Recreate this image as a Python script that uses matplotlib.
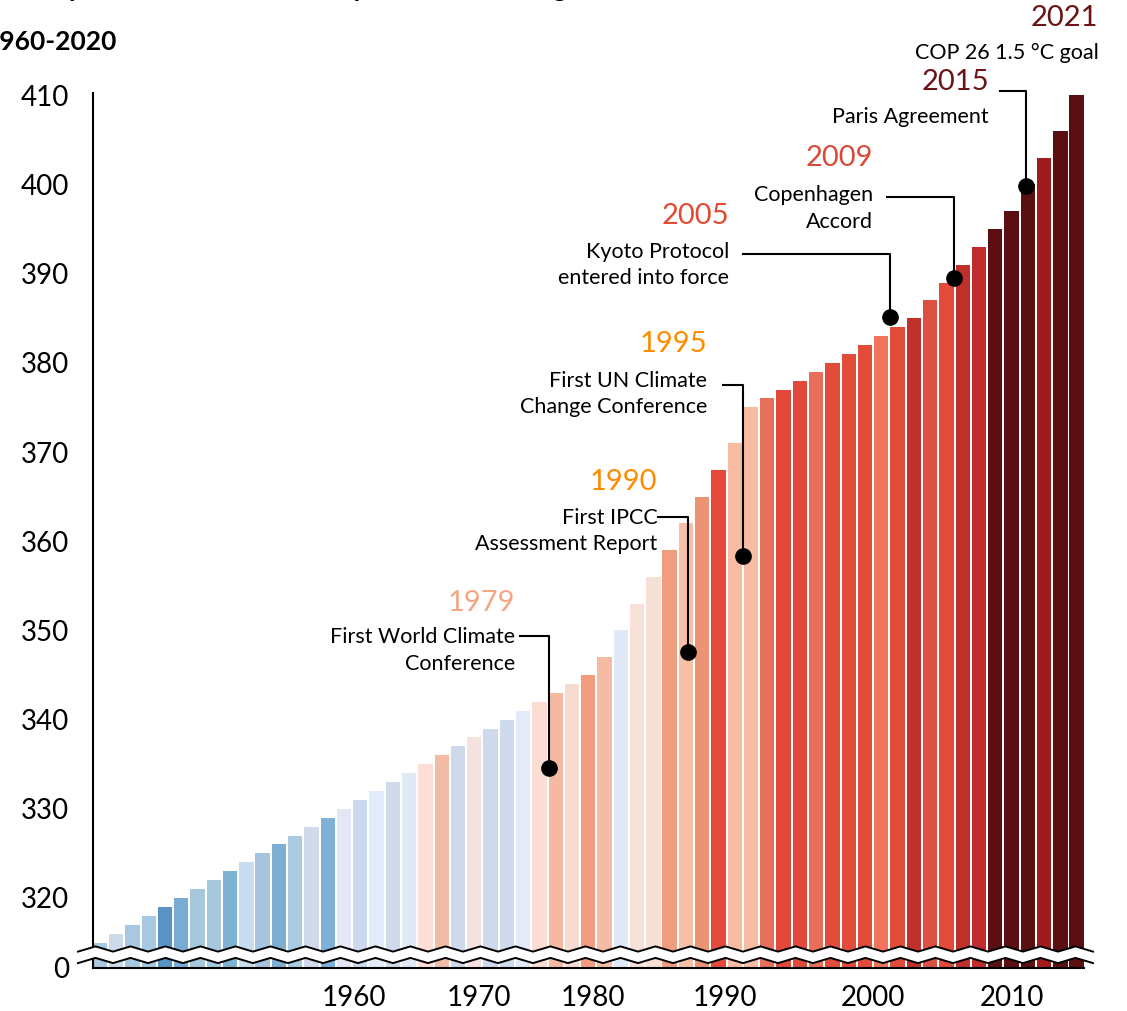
import numpy as np
import matplotlib.pyplot as plt
from matplotlib.lines import Line2D
from matplotlib.patches import Polygon

plt.rcParams['font.family'] = ['Lato', 'DejaVu Sans']

# Atmospheric CO2 (ppm), one bar per year 1960-2020
years = list(range(1960, 2021))
ppm = [315, 316, 317, 318, 319, 320, 321, 322, 323, 324,
       325, 326, 327, 328, 329, 330, 331, 332, 333, 334,
       335, 336, 337, 338, 339, 340, 341, 342, 343, 344,
       345, 347, 350, 353, 356, 359, 362, 365, 368, 371,
       375, 376, 377, 378, 379, 380, 381, 382, 383, 384,
       385, 387, 389, 391, 393, 395, 397, 400, 403, 406,
       410]

# stripe colour of each year
bar_colors = ['#A9C9E1', '#CCDAEB', '#A6C8E0', '#A6C8E0', '#5893C4',
              '#79ABD5', '#A6C8DD', '#A6C8DD', '#7EB2D2', '#C9DDF0',
              '#A6C4DE', '#7FAED3', '#A9CAE0', '#D0DAEA', '#7FB1D8',
              '#E4E8F6', '#CBD8F0', '#E3ECF9', '#D0DAEA', '#E0EAF5',
              '#FDDFD8', '#F2BBA5', '#CED9EC', '#F5E2DF', '#CED9EC',
              '#CFDAEC', '#E3EBFA', '#FBDDD4', '#F3B9A1', '#F8DBD0',
              '#F39C7F', '#F6BBA5', '#E0EAF7', '#F8E1D9', '#F7E0D6',
              '#F09C7E', '#F8BFA7', '#EC9375', '#E34A3A', '#F8BCA2',
              '#F8BCA2', '#E6705A', '#E2483A', '#E14A3A', '#E8705A',
              '#E24C3B', '#E24C3B', '#E04B3A', '#F0755C', '#E04B3A',
              '#C0302A', '#DD4F3E', '#E34A3A', '#C0302A', '#C02C2C',
              '#5B0F12', '#5B0F12', '#5B0F12', '#A01C1C', '#5B0F12',
              '#5B0F12']

x_labels = ['1960', '1970', '1980', '1990', '2000', '2010']
x_label_pos = [15.6, 23.3, 30.3, 38.4, 47.5, 56.0]
y_ticks = [320, 330, 340, 350, 360, 370, 380, 390, 400, 410]

# milestones: year, colour, text, dot (x, ppm), elbow ppm, line start x,
# text right edge x, year label ppm, text centre ppm
milestones = [
    ('1979', '#F4A582', 'First World Climate\nConference',
     (27.61, 334.57), 349.37, 25.81, 25.5, 353.1, 347.75),
    ('1990', '#FF8C00', 'First IPCC\nAssessment Report',
     (36.14, 347.61), 362.67, 34.30, 34.24, 366.66, 361.13),
    ('1995', '#FF8C00', 'First UN Climate\nChange Conference',
     (39.49, 358.33), 377.50, 38.26, 37.31, 382.1, 376.49),
    ('2005', '#E34A33', 'Kyoto Protocol\nentered into force',
     (48.53, 385.09), 392.15, 39.50, 38.65, 396.44, 391.0),
    ('2009', '#D94A38', 'Copenhagen\nAccord',
     (52.47, 389.49), 398.62, 48.33, 47.51, 402.94, 397.3),
    ('2015', '#6B1416', 'Paris Agreement',
     (56.87, 399.80), 410.45, 55.29, 54.62, 411.46, 407.54),
]

W, H = 1127, 1011
fig = plt.figure(figsize=(W / 100, H / 100), dpi=100)


def fx(px):
    return px / W


def fy(py):
    return 1 - py / H


left, right = 92.7, 1083.8
ax = fig.add_axes([fx(left), fy(954), fx(right) - fx(left), fy(93) - fy(954)])
axb = fig.add_axes([fx(left), fy(968), fx(right) - fx(left), fy(954) - fy(968)])

x = np.arange(len(ppm))
for a in (ax, axb):
    a.bar(x, ppm, width=0.88, color=bar_colors, edgecolor='none')
    a.set_xlim(-0.44, len(ppm) - 0.56)
    for s in ['top', 'right']:
        a.spines[s].set_visible(False)
    a.spines['left'].set_linewidth(1.5)
    a.tick_params(length=0, labelsize=20, pad=17)

ax.set_ylim(313.72, 410.25)
ax.set_yticks(y_ticks)
ax.set_xticks([])
ax.spines['bottom'].set_visible(False)

axb.set_ylim(0, 1)
axb.set_yticks([0])
axb.set_yticklabels(['0'])
axb.spines['bottom'].set_linewidth(1.5)
axb.set_xticks(x_label_pos)
axb.set_xticklabels(x_labels)
axb.tick_params(axis='x', pad=12)

# axis break: white zigzag band
zx = np.arange(78, 1101, 17.5)
zz = np.where(np.arange(len(zx)) % 2 == 0, 2.6, -2.6)
upper = 949 + zz
lower = 960.5 + zz
band = np.column_stack([np.r_[zx, zx[::-1]], np.r_[upper, lower[::-1]]])
band = np.column_stack([fx(band[:, 0]), fy(band[:, 1])])
fig.add_artist(Polygon(band, closed=True, facecolor='white', edgecolor='none',
                       transform=fig.transFigure, zorder=5))
for yy in (upper, lower):
    fig.add_artist(Line2D(fx(zx), fy(yy), color='black', lw=1.4,
                          transform=fig.transFigure, zorder=6))

# milestone annotations
for yr, col, txt, dot, y_elb, x_start, x_txt, y_yr, y_txt in milestones:
    ax.plot([x_start, dot[0], dot[0]], [y_elb, y_elb, dot[1]], color='black',
            lw=1.5, clip_on=False, zorder=4)
    ax.plot(dot[0], dot[1], 'o', color='black', markersize=11, clip_on=False, zorder=4)
    ax.text(x_txt, y_yr, yr, color=col, fontsize=21, ha='right', va='center')
    ax.text(x_txt, y_txt, txt, fontsize=15.5, ha='right', va='center',
            multialignment='right', linespacing=1.4)

ax.text(61.31, 418.63, '2021', color='#6B1416', fontsize=21, ha='right', va='center')
ax.text(61.37, 414.71, 'COP 26 1.5 °C goal', fontsize=15.5, ha='right', va='center')

# title (runs past the top edge of the canvas)
fig.text(fx(-8), fy(-3), 'Atmospheric CO\u2082 levels and important climate agreements',
         fontsize=19, fontweight='bold', ha='left', va='baseline')
fig.text(fx(117), fy(42), '1960-2020', fontsize=19, fontweight='bold',
         ha='right', va='center')

fig.savefig('out.png', dpi=100)
